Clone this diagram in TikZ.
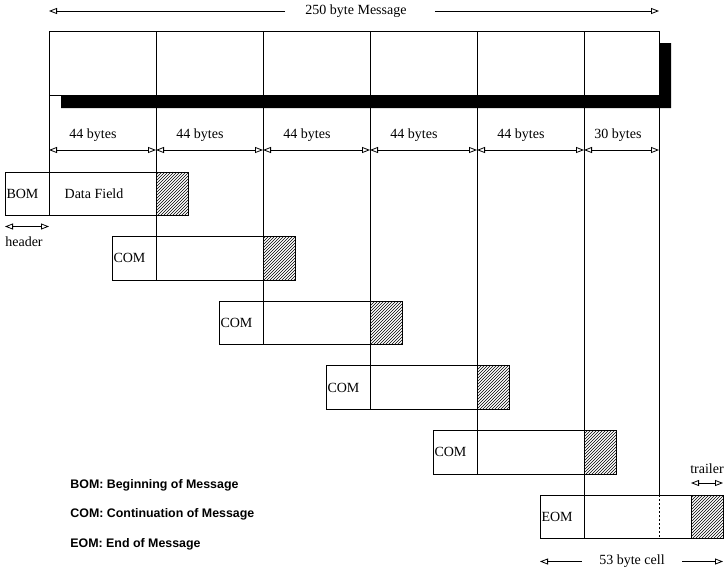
\documentclass[tikz,border=0pt]{standalone}
\usepackage{fontspec}
\setmainfont{Liberation Serif}
\setsansfont{Liberation Sans}
\usetikzlibrary{arrows.meta,patterns}
\tikzset{
  tip/.tip={Triangle[open,length=8pt,width=6pt]},
  dimarrow/.style={{tip}-{tip}, line width=0.8pt},
  onearrow/.style={-{tip}, line width=0.8pt},
  txt/.style={inner sep=0pt, font=\fontsize{14}{16}\selectfont},
  legend/.style={inner sep=0pt, anchor=west, font=\sffamily\bfseries\fontsize{12.4}{14}\selectfont},
  cell/.style={draw, fill=white, anchor=north west, minimum height=64pt, inner sep=0pt, outer sep=0pt},
  hdr/.style={draw, anchor=north west, minimum height=43.5pt, text width=41pt, align=left,
    inner xsep=1.5pt, inner ysep=0pt, outer sep=0pt, font=\fontsize{14}{16}\selectfont},
  dat/.style={draw, anchor=north west, minimum width=107pt, minimum height=43.5pt, inner sep=0pt, outer sep=0pt},
  trl/.style={draw, anchor=north west, minimum width=32pt, minimum height=43.5pt, inner sep=0pt, outer sep=0pt,
    pattern=north east lines},
}
\begin{document}
\begin{tikzpicture}[x=1pt,y=-1pt,line width=0.8pt]
\useasboundingbox (0,0) rectangle (725,571);

% top message box
\foreach \k in {1,...,5}{
  \node[cell, minimum width=107pt] (m\k) at ({49+107*(\k-1)},31.5) {};
}
\node[cell, minimum width=75pt] (m6) at (584,31.5) {};

% packet boxes
\foreach \i/\lab in {0/BOM,1/COM,2/COM,3/COM,4/COM,5/EOM}{
  \pgfmathsetmacro\bx{5+107*\i}
  \pgfmathsetmacro\by{172+64.6*\i}
  \node[hdr] (h\i) at (\bx,\by) {\lab};
  \node[dat] (d\i) at (h\i.north east) {};
  \node[trl] (t\i) at (d\i.north east) {};
}
\node[txt] (df) at (94,194) {Data Field};

% vertical guide lines
\draw (m1.south west) -- (h0.north east);
\foreach \k [evaluate=\k as \n using int(\k+1)] in {1,...,5}{
  \draw (m\n.south west) -- (h\k.south east);
}
\coordinate (eomtop) at (m6.south east |- d5.north);
\coordinate (eombot) at (m6.south east |- d5.south);
\draw (m6.south east) -- (eomtop);
\draw[dash pattern=on 2pt off 2pt] (eomtop) -- (eombot);

% shadow
\fill[black] (61,95.5) -- (659,95.5) -- (659,43) -- (671,43) -- (671,108) -- (61,108) -- cycle;

% 250 byte message arrow
\node[txt] (msg) at (356,11) {250 byte Message};
\coordinate (msgL) at (m1.north west |- msg);
\coordinate (msgR) at (m6.north east |- msg);
\draw[onearrow] ([xshift=-20pt]msg.west) -- (msgL);
\draw[onearrow] ([xshift=28pt]msg.east) -- (msgR);

% byte dimension arrows
\coordinate (dimy) at (0,150);
\foreach \k [evaluate=\k as \n using int(\k+1)] in {1,...,5}{
  \draw[dimarrow] (m\k.south west |- dimy) -- (m\n.south west |- dimy);
  \node[txt] (lb\k) at ({93+107*(\k-1)},135) {44 bytes};
}
\draw[dimarrow] (m6.south west |- dimy) -- (m6.south east |- dimy);
\node[txt] (lb6) at (618,135) {30 bytes};

% header
\coordinate (hy) at (0,226.5);
\draw[dimarrow] (h0.south west |- hy) -- (h0.south east |- hy);
\node[txt] (hl) at (24,241.5) {header};

% trailer
\coordinate (ty) at (0,483);
\draw[dimarrow] (t5.south west |- ty) -- (t5.south east |- ty);
\node[txt] (tl) at (707,469) {trailer};

% 53 byte cell
\node[txt] (cell53) at (632,561.5) {53 byte cell};
\coordinate (cL) at (h5.south west |- cell53);
\coordinate (cR) at (t5.south east |- cell53);
\draw[onearrow] ([xshift=-17pt]cell53.west) -- (cL);
\draw[onearrow] ([xshift=17pt]cell53.east) -- (cR);

% legend
\node[legend] (lg1) at (70,485) {BOM: Beginning of Message};
\node[legend] (lg2) at (70,514) {COM: Continuation of Message};
\node[legend] (lg3) at (70,544) {EOM: End of Message};
\end{tikzpicture}
\end{document}
